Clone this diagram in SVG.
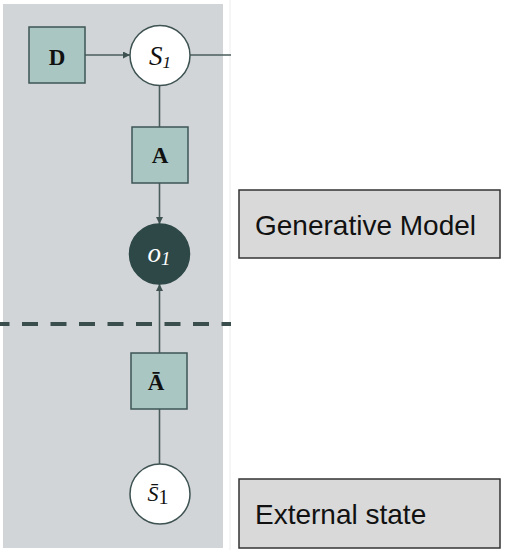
<svg xmlns="http://www.w3.org/2000/svg" width="510" height="550" viewBox="0 0 510 550">
<defs>
<marker id="arr" viewBox="0 0 10 10" refX="10" refY="5" markerWidth="7" markerHeight="7" markerUnits="userSpaceOnUse" orient="auto">
<path d="M0,0 L10,5 L0,10 z" fill="#3e5252"/>
</marker>
</defs>
<style>
.box{fill:#a9c6c3;stroke:#3e5656;stroke-width:1.5}
.circ{fill:#ffffff;stroke:#3e5252;stroke-width:1.5}
.obs{fill:#2e4848;stroke:#2e4848;stroke-width:1.5}
.edge{stroke:#4a5c5c;stroke-width:1.6;fill:none}
.mtxt{font-family:"Liberation Serif","DejaVu Serif",serif;fill:#111;text-anchor:middle}
.lbl{fill:#d9d9d9;stroke:#333;stroke-width:1.5}
.ltxt{font-family:"Liberation Sans",Arial,sans-serif;font-size:28px;fill:#111}
</style>
<rect x="3" y="4" width="220" height="544" fill="#d1d5d8"/>
<line x1="230" y1="0" x2="230" y2="550" stroke="#ececec" stroke-width="1"/>
<g id="connectors">
<line class="edge" x1="85" y1="55" x2="130" y2="55" marker-end="url(#arr)"/>
<line class="edge" x1="190" y1="55" x2="231" y2="55"/>
<line class="edge" x1="159.5" y1="85" x2="159.5" y2="127"/>
<line class="edge" x1="159.5" y1="183" x2="159.5" y2="224" marker-end="url(#arr)"/>
<line class="edge" x1="159.5" y1="353" x2="159.5" y2="284" marker-end="url(#arr)"/>
<line class="edge" x1="159.5" y1="464" x2="159.5" y2="409"/>
</g>
<g id="divider">
<line x1="0" y1="324" x2="231" y2="324" stroke="#3a4e4e" stroke-width="4" stroke-dasharray="16 12.5" stroke-dashoffset="6.5"/>
</g>
<g id="node-D">
<rect class="box" x="29" y="27" width="56" height="56"/>
<text class="mtxt" x="57" y="65" font-size="23" font-weight="bold">D</text>
</g>
<g id="node-S1">
<circle class="circ" cx="160" cy="55.5" r="30"/>
<text class="mtxt" x="160" y="65" font-size="27" font-style="italic">S<tspan font-size="17" dy="3">1</tspan></text>
</g>
<g id="node-A">
<rect class="box" x="132" y="127" width="56" height="56"/>
<text class="mtxt" x="160" y="163" font-size="23" font-weight="bold">A</text>
</g>
<g id="node-o1">
<circle class="obs" cx="159.5" cy="254" r="30"/>
<text class="mtxt" x="159" y="262" font-size="27" font-style="italic" style="fill:#ffffff">o<tspan font-size="19" dy="3">1</tspan></text>
</g>
<g id="node-Abar">
<rect class="box" x="131" y="353" width="56" height="56"/>
<text class="mtxt" x="156" y="390" font-size="23" font-weight="bold">Ā</text>
</g>
<g id="node-Sbar">
<circle class="circ" cx="160" cy="494" r="30"/>
<text class="mtxt" x="158" y="501" font-size="22" font-style="italic">S̄<tspan font-style="normal" font-size="20" dy="3">1</tspan></text>
</g>
<g id="label-generative">
<rect class="lbl" x="239" y="190" width="261" height="68"/>
<text class="ltxt" x="255" y="235">Generative Model</text>
</g>
<g id="label-external">
<rect class="lbl" x="239" y="479" width="261" height="69"/>
<text class="ltxt" x="255" y="524">External state</text>
</g>
</svg>
